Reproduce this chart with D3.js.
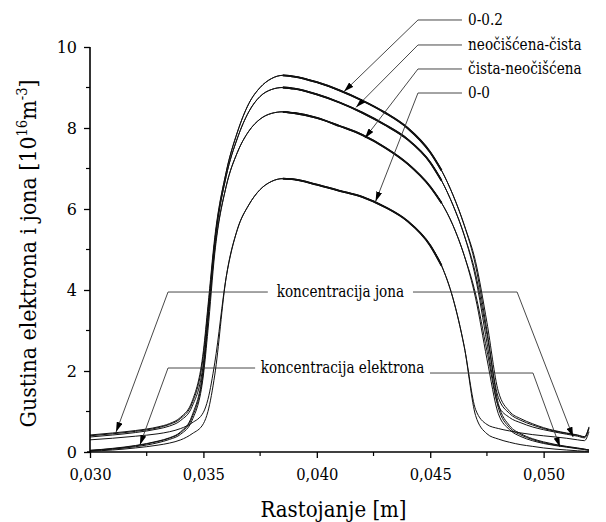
<!DOCTYPE html>
<html>
<head>
<meta charset="utf-8">
<script src="https://cdn.jsdelivr.net/npm/d3@7"></script>
<style>
  body { margin: 0; background: #fff; }
  svg text { fill: #000; }
</style>
</head>
<body>
<div id="chart"></div>
<script>
// distance along the discharge [m]
var xValues = [0.0300, 0.0310, 0.0320, 0.0330, 0.0335, 0.0340, 0.0345, 0.0350, 0.0352, 0.0355,
               0.0360, 0.0365, 0.0370, 0.0375, 0.0380, 0.0385, 0.0390, 0.0400, 0.0410, 0.0420,
               0.0430, 0.0440, 0.0450, 0.0455, 0.0460, 0.0465, 0.0470, 0.0475, 0.0480, 0.0485,
               0.0490, 0.0495, 0.0500, 0.0510, 0.0515, 0.0518, 0.0520];

// densities [10^16 m^-3], ions and electrons for each case
var ion02 = [0.42, 0.47, 0.53, 0.62, 0.70, 0.86, 1.25, 2.5, 3.6, 5.3, 6.9, 7.9, 8.6, 9.0, 9.22, 9.3, 9.27, 9.13, 8.93, 8.68,
             8.38, 8.0, 7.4, 6.95, 6.35, 5.6, 4.7, 3.2, 1.5, 1.0, 0.82, 0.7, 0.6, 0.47, 0.42, 0.38, 0.62];
var ele02 = [0.04, 0.09, 0.16, 0.27, 0.35, 0.5, 0.9, 2.1, 3.3, 5.2, 6.9, 7.9, 8.6, 9.0, 9.22, 9.3, 9.27, 9.13, 8.93, 8.68,
             8.38, 8.0, 7.4, 6.95, 6.35, 5.6, 4.6, 3.0, 1.2, 0.65, 0.45, 0.33, 0.25, 0.14, 0.1, 0.07, 0.05];
var ionNC = [0.40, 0.45, 0.51, 0.60, 0.68, 0.83, 1.2, 2.4, 3.5, 5.2, 6.8, 7.75, 8.4, 8.78, 8.95, 9.0, 8.97, 8.83, 8.63, 8.38,
             8.08, 7.72, 7.15, 6.7, 6.1, 5.35, 4.4, 2.9, 1.35, 0.95, 0.78, 0.67, 0.58, 0.46, 0.41, 0.37, 0.6];
var eleNC = [0.04, 0.08, 0.15, 0.26, 0.34, 0.48, 0.85, 2.0, 3.2, 5.1, 6.8, 7.75, 8.4, 8.78, 8.95, 9.0, 8.97, 8.83, 8.63, 8.38,
             8.08, 7.72, 7.15, 6.7, 6.1, 5.35, 4.3, 2.7, 1.1, 0.6, 0.42, 0.31, 0.23, 0.13, 0.09, 0.07, 0.05];
var ionCN = [0.37, 0.42, 0.48, 0.57, 0.64, 0.78, 1.12, 2.2, 3.3, 5.0, 6.55, 7.4, 7.92, 8.22, 8.36, 8.4, 8.37, 8.25, 8.05, 7.83,
             7.52, 7.12, 6.55, 6.15, 5.6, 4.85, 3.9, 2.5, 1.15, 0.85, 0.72, 0.62, 0.55, 0.44, 0.39, 0.35, 0.58];
var eleCN = [0.03, 0.07, 0.13, 0.23, 0.31, 0.44, 0.78, 1.9, 3.0, 4.9, 6.55, 7.4, 7.92, 8.22, 8.36, 8.4, 8.37, 8.25, 8.05, 7.83,
             7.52, 7.12, 6.55, 6.15, 5.6, 4.85, 3.8, 2.3, 0.95, 0.55, 0.38, 0.28, 0.21, 0.12, 0.08, 0.06, 0.04];
var ion00 = [0.30, 0.34, 0.39, 0.45, 0.5, 0.58, 0.72, 0.98, 1.3, 2.2, 4.3, 5.5, 6.1, 6.48, 6.68, 6.75, 6.73, 6.6, 6.45, 6.3,
             6.05, 5.7, 5.1, 4.6, 3.8, 2.6, 1.05, 0.68, 0.58, 0.52, 0.47, 0.43, 0.4, 0.34, 0.3, 0.28, 0.5];
var ele00 = [0.02, 0.05, 0.1, 0.17, 0.22, 0.3, 0.45, 0.7, 1.0, 1.9, 4.3, 5.5, 6.1, 6.48, 6.68, 6.75, 6.73, 6.6, 6.45, 6.3,
             6.05, 5.7, 5.1, 4.6, 3.8, 2.6, 0.9, 0.45, 0.32, 0.24, 0.18, 0.14, 0.1, 0.05, 0.03, 0.02, 0.02];

var seriesList = [ion02, ele02, ionNC, eleNC, ionCN, eleCN, ion00, ele00];

var xTicks = [0.030, 0.035, 0.040, 0.045, 0.050];
var xMinor = [0.0325, 0.0375, 0.0425, 0.0475];
var yTicks = [0, 2, 4, 6, 8, 10];
var yMinor = [1, 3, 5, 7, 9];

// case labels with arrow tips (data units) and elbow heights
var caseLabels = ["0-0.2", "neočišćena-čista", "čista-neočišćena", "0-0"];
var caseTips = [[0.04120, 8.90], [0.04173, 8.51], [0.04212, 7.75], [0.04259, 6.185]];
var caseElbowY = [10.667, 10.05, 9.457, 8.864];

var serif = "DejaVu Serif";

// DejaVu Serif is wider than the Times face of the original, so squeeze text a bit
function squeeze(sel, f) {
  sel.each(function() {
    var len = this.getComputedTextLength();
    d3.select(this).attr("textLength", len * f).attr("lengthAdjust", "spacingAndGlyphs");
  });
}

// same idea, but with a transform so the box of the text shrinks too
function narrowText(parent, px, py, f, anchor, size, str) {
  return parent.append("text")
      .attr("transform", "translate(" + px + "," + py + ") scale(" + f + ",1)")
      .attr("text-anchor", anchor)
      .attr("font-size", size)
      .text(str);
}

function init() {
  var w = 606, h = 522;
  var left = 90, right = 589, top = 47, bottom = 452;

  var x = d3.scaleLinear().domain([0.030, 0.052]).range([left, right]);
  var y = d3.scaleLinear().domain([0, 10]).range([bottom, top]);

  var svg = d3.select("#chart").append("svg")
      .attr("width", w).attr("height", h)
      .attr("font-family", serif);

  // arrow head
  svg.append("defs").append("marker")
      .attr("id", "arr")
      .attr("markerUnits", "userSpaceOnUse")
      .attr("viewBox", "0 0 10 6")
      .attr("refX", 10).attr("refY", 3)
      .attr("markerWidth", 10).attr("markerHeight", 6)
      .attr("orient", "auto")
    .append("path")
      .attr("d", "M0,0 L10,3 L0,6 Z")
      .attr("fill", "#000");

  // curves
  var line = d3.line()
      .x(function(d) { return x(d[0]); })
      .y(function(d) { return y(d[1]); })
      .curve(d3.curveMonotoneX);

  seriesList.forEach(function(s) {
    var pts = xValues.map(function(v, i) { return [v, s[i]]; });
    svg.append("path")
        .attr("d", line(pts))
        .attr("fill", "none")
        .attr("stroke", "#111")
        .attr("stroke-width", 1);
    // noisy measured stretch looks heavier in the original
    var mid = pts.filter(function(p) { return p[0] >= 0.0385 && p[0] <= 0.0455; });
    svg.append("path")
        .attr("d", line(mid))
        .attr("fill", "none")
        .attr("stroke", "#111")
        .attr("stroke-width", 1.8);
  });

  // axes
  var xAxis = d3.axisBottom(x).tickValues(xTicks).tickSize(6)
      .tickFormat(function(d) { return d3.format(".3f")(d).replace(".", ","); });
  var gx = svg.append("g").attr("transform", "translate(0," + bottom + ")").call(xAxis);
  gx.attr("font-family", serif);
  gx.select(".domain").attr("d", "M" + (left - 3) + ",0H" + right).attr("stroke-width", 1.6);
  gx.selectAll(".tick line").attr("stroke-width", 1.3);
  gx.selectAll("text").attr("font-size", 16).attr("y", 28).attr("dy", 0);
  squeeze(gx.selectAll(".tick text"), 0.92);
  gx.selectAll(".minor").data(xMinor).enter().append("line")
      .attr("x1", function(d) { return x(d); }).attr("x2", function(d) { return x(d); })
      .attr("y1", 0).attr("y2", 4).attr("stroke", "#000").attr("stroke-width", 1.2);

  var yAxis = d3.axisLeft(y).tickValues(yTicks).tickSize(6).tickPadding(7);
  var gy = svg.append("g").attr("transform", "translate(" + left + ",0)").call(yAxis);
  gy.attr("font-family", serif);
  gy.select(".domain").attr("d", "M0," + (bottom + 1) + "V" + top).attr("stroke-width", 1.6);
  gy.selectAll(".tick line").attr("stroke-width", 1.3);
  gy.selectAll("text").attr("font-size", 16);
  gy.selectAll(".minor").data(yMinor).enter().append("line")
      .attr("y1", function(d) { return y(d); }).attr("y2", function(d) { return y(d); })
      .attr("x1", 0).attr("x2", -4).attr("stroke", "#000").attr("stroke-width", 1.2);

  // axis titles
  narrowText(svg, (left + right) / 2 - 6, 517, 0.9, "middle", 22, "Rastojanje [m]");

  var yt = svg.append("text")
      .attr("transform", "translate(36," + ((top + bottom) / 2 + 4) + ") rotate(-90)")
      .attr("text-anchor", "middle").attr("font-size", 22);
  yt.append("tspan").text("Gustina elektrona i jona [10");
  yt.append("tspan").attr("font-size", 14).attr("dy", -9).text("16");
  yt.append("tspan").attr("dy", 9).text("m");
  yt.append("tspan").attr("font-size", 14).attr("dy", -9).text("-3");
  yt.append("tspan").attr("dy", 9).text("]");
  yt.attr("textLength", 348).attr("lengthAdjust", "spacingAndGlyphs");

  // case annotations
  var elbowX = 0.04446, lineEndX = 0.0464, textX = 0.04667;
  caseLabels.forEach(function(lbl, i) {
    var tip = caseTips[i], ey = caseElbowY[i];
    svg.append("path")
        .attr("d", "M" + x(lineEndX) + "," + y(ey) + "H" + x(elbowX) + "L" + x(tip[0]) + "," + y(tip[1]))
        .attr("fill", "none").attr("stroke", "#333").attr("stroke-width", 0.9)
        .attr("marker-end", "url(#arr)");
    narrowText(svg, x(textX), y(ey) + 5, 0.8, "start", 17, lbl);
  });

  // concentration annotations
  var concLabels = ["koncentracija jona", "koncentracija elektrona"];
  var concY = [3.95, 2.074];
  var concLeft = [[0.03784, 0.03344, [0.03115, 0.494]], [0.03728, 0.03344, [0.03220, 0.173]]];
  var concRight = [[0.04424, 0.04883, 3.95, [0.05130, 0.37]], [0.04499, 0.04953, 1.95, [0.05072, 0.123]]];
  concLabels.forEach(function(lbl, i) {
    var L = concLeft[i], R = concRight[i];
    svg.append("path")
        .attr("d", "M" + x(L[0]) + "," + y(concY[i]) + "H" + x(L[1]) + "L" + x(L[2][0]) + "," + y(L[2][1]))
        .attr("fill", "none").attr("stroke", "#333").attr("stroke-width", 0.9)
        .attr("marker-end", "url(#arr)");
    svg.append("path")
        .attr("d", "M" + x(R[0]) + "," + y(R[2]) + "H" + x(R[1]) + "L" + x(R[3][0]) + "," + y(R[3][1]))
        .attr("fill", "none").attr("stroke", "#333").attr("stroke-width", 0.9)
        .attr("marker-end", "url(#arr)");
    narrowText(svg, (x(L[0]) + x(R[0])) / 2, y(concY[i]) + 5, 0.8, "middle", 17, lbl);
  });
}

window.onload = init;
</script>
</body>
</html>
